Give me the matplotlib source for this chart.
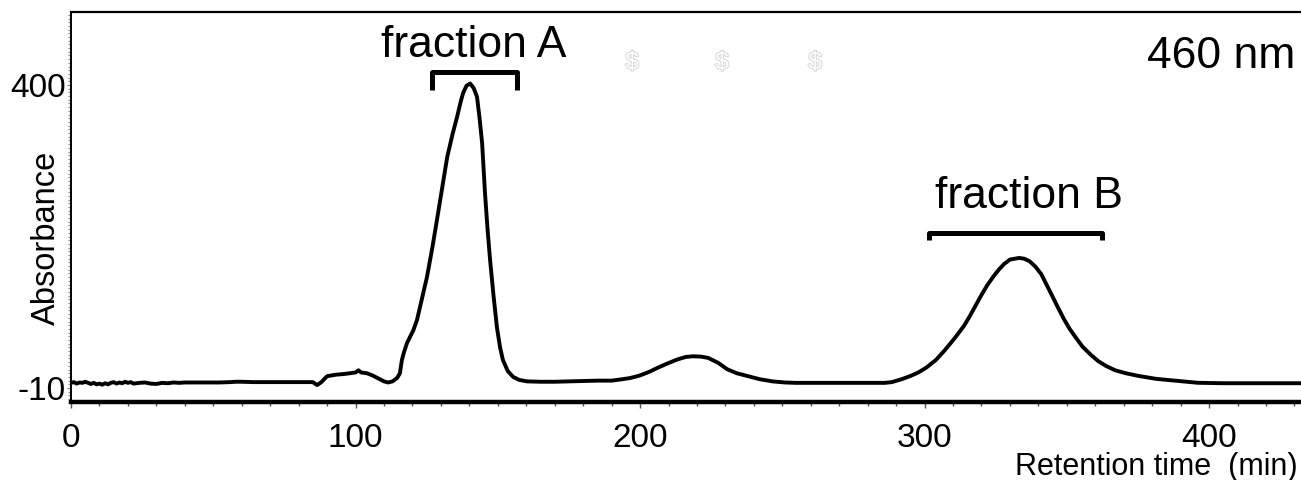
import matplotlib
matplotlib.use("Agg")
import matplotlib.pyplot as plt
from matplotlib.ticker import FixedLocator, MultipleLocator
import matplotlib.patheffects as pe

plt.rcParams['font.family'] = ['Liberation Sans', 'DejaVu Sans']

# ---- data ----
retention_time = [0, 1, 2, 3, 4, 5, 6, 7, 8, 9, 10, 11, 12, 13, 14, 15, 16, 17, 18, 19,
                  20, 21, 22, 24, 26, 28, 30, 32, 34, 36, 38, 40, 44, 48, 52, 56, 58, 60,
                  64, 70, 76, 82, 85, 86.5, 88, 90, 93, 96, 98, 100, 101, 102, 104, 106,
                  108, 110, 111.5, 113, 114.6, 115.6, 116.3, 117, 118.1, 119, 120.3, 121.6,
                  123, 125.1, 127, 128.6, 130.5, 132.2, 134, 135.7, 137, 137.8, 139, 140.3,
                  141.5, 142.7, 143.6, 144.5, 145.5, 146.4, 147.3, 148.5, 149.7, 150.8,
                  151.8, 153.5, 155.4, 157.5, 160.3, 165, 170, 175, 180, 185, 190, 193,
                  196.5, 199.7, 203, 206.3, 209.5, 213, 216, 218.6, 221.5, 224, 227.5,
                  230.6, 234, 237.3, 242, 246.7, 251, 254.8, 260, 270, 280, 286, 288.5,
                  292, 295.3, 298, 300.6, 304, 307.2, 310.5, 313.9, 316, 318.1, 320, 322,
                  324, 326.2, 328, 330, 333.2, 335, 336.9, 339, 341, 343, 345, 347, 349,
                  351, 353, 355.5, 358.4, 361, 363.8, 367, 370.5, 375, 381.4, 388, 396,
                  405, 415, 425, 432]
absorbance = [-3, -2, -4, -2.5, -3, -1.5, -3, -4.5, -3, -5, -4, -5.5, -3.5, -5, -3, -2, -4,
              -2.5, -3.5, -1.5, -3, -2, -4, -3, -2.5, -4, -4.5, -3, -3.5, -2.5, -3, -2.5,
              -2.5, -2.5, -2.5, -2, -1.5, -1.5, -2, -2, -2, -2, -2, -6, -2, 6, 8, 9, 10,
              11, 14, 11, 10, 7, 3, -1, -2.5, -1, 3.5, 10, 28, 38, 51, 58, 68, 82, 105,
              140, 180, 217, 262, 302, 332, 357, 378, 389, 399, 402, 396, 384, 355, 321,
              254, 205, 163, 115, 72, 45, 28, 13, 5, 1, -1, -1.5, -1.5, -1, -0.5, 0, 0,
              1.5, 3.5, 6.7, 11.5, 17.6, 23, 28.5, 32, 33, 32.5, 30.7, 24, 15.5, 10, 6.7,
              2, -1.1, -2.5, -3, -3, -3, -3, -3, -2, 2, 6.7, 11.5, 17.6, 28, 41.6, 57,
              74.4, 88, 102.7, 116, 128.9, 140, 150.7, 158, 163.8, 166, 165, 161.6, 154,
              144.2, 129, 113.6, 98, 83.1, 70, 59.1, 46, 35.1, 26.5, 19.8, 14, 10.2, 6.5,
              2.4, 0, -2.9, -3.5, -3.5, -3.5, -3.5]

x_major_ticks = [0, 100, 200, 300, 400]
y_major_ticks = [-10, 400]
y_tick_labels = ["-10", "400"]

fraction_labels = ["fraction A", "fraction B"]
fraction_ranges = [(126.9, 156.8), (301.6, 362.4)]
bracket_levels = [(417.5, 393.2), (199.7, 190.2)]
label_positions = [(141.7, 454), (336.6, 249.8)]

W, H = 1301, 480
fig = plt.figure(figsize=(W / 100, H / 100), dpi=100)
left_px, right_px, top_px, bottom_px = 71, 1301, 12, 402
ax = fig.add_axes([left_px / W, 1 - bottom_px / H, (right_px - left_px) / W,
                   (bottom_px - top_px) / H])

ax.plot(retention_time, absorbance, color='black', lw=2.8, solid_joinstyle='round')

ax.set_xlim(0, 432.3)
ax.set_ylim(-28.9, 498.8)

# spines
ax.spines['right'].set_visible(False)
ax.spines['bottom'].set_linewidth(3.2)
ax.spines['top'].set_linewidth(1.6)
ax.spines['left'].set_linewidth(1.4)

# ticks
ax.set_xticks(x_major_ticks)
ax.xaxis.set_minor_locator(MultipleLocator(10))
ax.tick_params(axis='x', which='major', direction='out', length=4, width=1,
               labelsize=24, pad=11, color='#555555')
ax.tick_params(axis='x', which='minor', direction='out', length=3, width=1,
               color='#555555')
ax.set_yticks(y_major_ticks)
ax.set_yticklabels(y_tick_labels)
ax.yaxis.set_minor_locator(FixedLocator([v for v in range(-25, 496, 5)]))
ax.tick_params(axis='y', which='major', direction='out', length=3, width=0.8,
               labelsize=24, pad=1, color='#777777')
ax.tick_params(axis='y', which='minor', direction='out', length=2.5, width=0.9,
               color='#888888')

# brackets + labels
for (x0, x1), (ytop, ybot), (lx, ly), lab in zip(fraction_ranges, bracket_levels,
                                                 label_positions, fraction_labels):
    ax.plot([x0, x0, x1, x1], [ybot, ytop, ytop, ybot], color='black', lw=3.6,
            solid_joinstyle='round', solid_capstyle='butt')
    ax.text(lx, ly, lab, fontsize=32, ha='center', va='center')

ax.text(0.995, 0.885, "460 nm", transform=ax.transAxes, fontsize=32,
        ha='right', va='center')

# faint watermark-like dollar signs
for xd in [197.2, 228.8, 261.5]:
    ax.text(xd, 431, "$", fontsize=18, ha='center', va='center', color='white',
            path_effects=[pe.withStroke(linewidth=1.2, foreground='#cfcfcf')])

fig.text(46 / W, 1 - 238 / H, "Absorbance", rotation=90, fontsize=23.5,
         ha='center', va='center')
fig.text(1298 / W, 1 - 467 / H, "Retention time  (min)", fontsize=22,
         ha='right', va='center')

fig.savefig("out.png", dpi=100)
